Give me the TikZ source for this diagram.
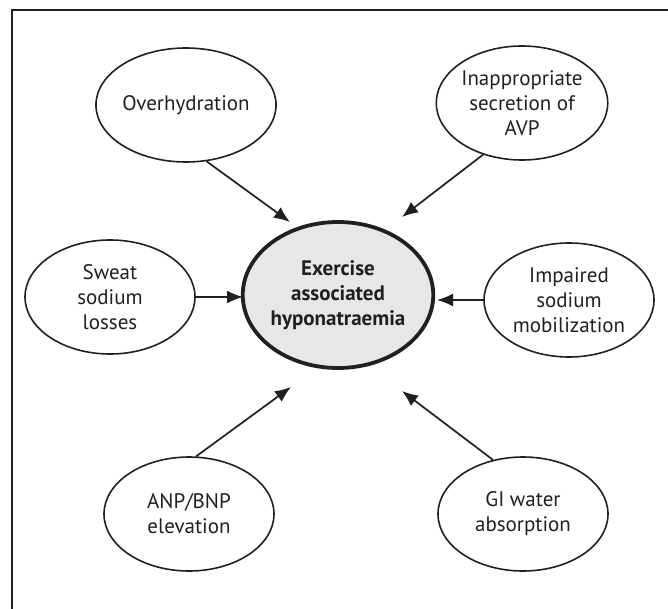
\documentclass[tikz,border=0pt]{standalone}
\usepackage{fontspec}
\setmainfont{PT Sans}
\usetikzlibrary{shapes.geometric,arrows.meta}
\definecolor{inkgray}{HTML}{231F20}
\definecolor{hubfill}{HTML}{E6E7E8}
\begin{document}
\begin{tikzpicture}[x=1pt, y=-1pt,
		cause/.style={draw=inkgray, ellipse, line width=1.6pt, minimum width=170pt, minimum height=114pt, inner sep=0pt, align=center, text=inkgray, font=\fontsize{21}{25}\selectfont},
		hub/.style={draw=inkgray, ellipse, line width=3.8pt, fill=hubfill, minimum width=183pt, minimum height=146pt, inner sep=0pt, align=center, text=inkgray, font=\fontsize{21}{25}\selectfont\bfseries},
		push/.style={draw=inkgray, line width=1.7pt, -{Latex[length=16pt, width=13pt]}}]
		\useasboundingbox (0,0) rectangle (668,609);
		\draw[inkgray, line width=2.6pt] (12,609) -- (12,10) -- (668,10);

		\node[hub] (eah) at (338,295) {Exercise\\associated\\hyponatraemia};

		\node[cause] (over) at (186,105) {Overhydration};
		\node[cause] (avp) at (522,103) {Inappropriate\\secretion of\\AVP};
		\node[cause] (sweat) at (110,297) {Sweat\\sodium\\losses};
		\node[cause] (mob) at (569,300) {Impaired\\sodium\\mobilization};
		\node[cause] (anp) at (189,514) {ANP/BNP\\elevation};
		\node[cause] (gi) at (523,514) {GI water\\absorption};

		\coordinate (tover) at (290,222);
		\coordinate (tavp) at (402,217);
		\coordinate (tsweat) at (243,297);
		\coordinate (tmob) at (437,300);
		\coordinate (tanp) at (291,387);
		\coordinate (tgi) at (402,391);

		\draw[push] (over.-70) -- (tover);
		\draw[push] (avp.-127) -- (tavp);
		\draw[push] (sweat.east) -- (tsweat);
		\draw[push] (mob.west) -- (tmob);
		\draw[push] (anp.83) -- (tanp);
		\draw[push] (gi.119) -- (tgi);

	\end{tikzpicture}
\end{document}
